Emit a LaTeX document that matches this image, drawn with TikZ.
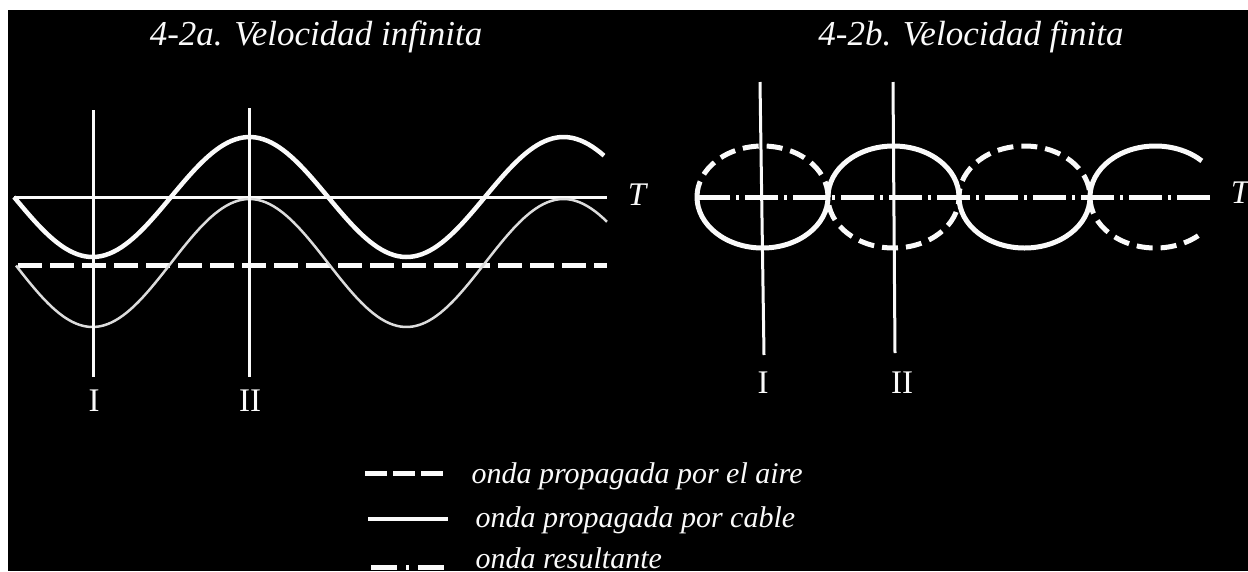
\documentclass[tikz,border=0pt]{standalone}
\usepackage{fontspec}
\setmainfont{Liberation Serif}
\usetikzlibrary{positioning}
\definecolor{inkwhite}{RGB}{250,250,250}
\definecolor{fadedwhite}{RGB}{220,220,220}

\begin{document}
\begin{tikzpicture}[
    x=1pt, y=-1pt,
    axis/.style={inkwhite, line width=3pt},
    cablewave/.style={inkwhite, line width=4.5pt},
    airwave/.style={inkwhite, line width=5pt, dash pattern=on 24pt off 8pt},
    resultwave/.style={inkwhite, line width=5pt, dash pattern=on 33pt off 6pt on 3pt off 6pt},
    sumwave/.style={fadedwhite, line width=2.5pt},
    title/.style={inkwhite, font=\fontsize{35}{42}\selectfont\itshape, anchor=base},
    legend/.style={inkwhite, font=\fontsize{30}{36}\selectfont\itshape, anchor=base west},
    numeral/.style={inkwhite, font=\fontsize{33}{40}\selectfont, anchor=base},
    tlabel/.style={inkwhite, font=\fontsize{33}{40}\selectfont\itshape, anchor=base}
]
    % page and frame
    \useasboundingbox (0,0) rectangle (1248,571);
    \fill[white] (0,0) rectangle (1248,571);
    \fill[black] (8,10) rectangle (1248,571);

    % titles
    \node[title] (titlea) at (316,45) {4-2a. Velocidad infinita};
    \node[title] (titleb) at (971,45) {4-2b. Velocidad finita};

    % 4-2a: infinite speed (180/157 = 1.1465 deg per pt)
    \draw[axis] (14,197) -- (607,197);
    \draw[airwave] (18,265) -- (607,265);
    \draw[cablewave] plot[domain=14:604, samples=150] (\x, {197+60*sin(1.1465*(\x-14))});
    \draw[sumwave] plot[domain=16:607, samples=150] (\x, {263+64*sin(1.1465*(\x-14))});
    \draw[axis] (93,110) -- (93,377);
    \draw[axis] (249,108) -- (249,377);
    \node[tlabel] (ta) at (637,205) {T};
    \node[numeral] (ia) at (94,411) {I};
    \node[numeral] (iia) at (250,411) {II};

    % 4-2b: finite speed
    \draw[resultwave] (697,197) -- (1212,197);
    \draw[cablewave, line width=5pt] (697,197)
        arc[start angle=180, end angle=0, x radius=65.5, y radius=51]
        arc[start angle=180, end angle=360, x radius=65.5, y radius=51]
        arc[start angle=180, end angle=0, x radius=65.5, y radius=51]
        arc[start angle=180, end angle=315, x radius=65.5, y radius=51];
    \draw[airwave, dash pattern=on 16pt off 8pt] (697,197)
        arc[start angle=180, end angle=360, x radius=65.5, y radius=51]
        arc[start angle=180, end angle=0, x radius=65.5, y radius=51]
        arc[start angle=180, end angle=360, x radius=65.5, y radius=51]
        arc[start angle=180, end angle=45, x radius=65.5, y radius=51];
    \draw[axis] (760,82) -- (764,355);
    \draw[axis] (893,82) -- (895,353);
    \node[tlabel] (tb) at (1240,203) {T};
    \node[numeral] (ib) at (763,393) {I};
    \node[numeral] (iib) at (902,393) {II};

    % legend
    \draw[airwave, dash pattern=on 22pt off 6pt] (365,473) -- (443,473);
    \node[legend] (legair) at (468,483) {onda propagada por el aire};
    \draw[cablewave, line width=4pt] (368,519) -- (448,519);
    \node[legend] (legcable) at (472,527) {onda propagada por cable};
    \draw[resultwave, dash pattern=on 26pt off 9pt on 3pt off 9pt] (371,567) -- (448,567);
    \node[legend] (legsum) at (472,568) {onda resultante};
\end{tikzpicture}
\end{document}
